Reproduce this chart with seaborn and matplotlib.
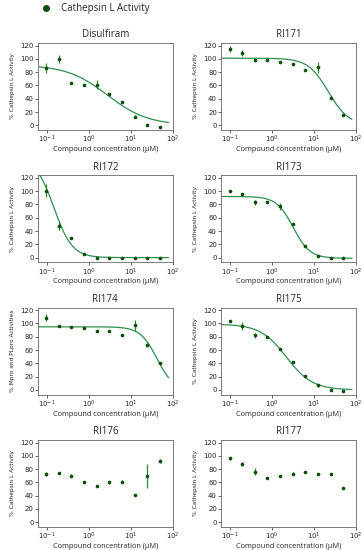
import numpy as np
import pandas as pd
import matplotlib
matplotlib.use("Agg")
import matplotlib.pyplot as plt
from matplotlib.lines import Line2D
import seaborn as sns

# concentrations (uM), 2-fold dilution
conc = [0.098, 0.195, 0.39, 0.78, 1.56, 3.125, 6.25, 12.5, 25, 50]

titles = ['Disulfiram', 'RI171', 'RI172', 'RI173', 'RI174', 'RI175', 'RI176', 'RI177']
ylabels = ['% Cathepsin L Activity'] * 4 + ['% Mpro and PLpro Activities'] + ['% Cathepsin L Activity'] * 3

act_disulfiram = [86, 100, 63, 61, 61, 47, 35, 13, 1, -2]
err_disulfiram = [7, 6, 1, 1, 7, 1, 2, 2, 1, 1]
act_ri171 = [115, 109, 98, 98, 95, 92, 83, 87, 41, 16]
err_ri171 = [5, 5, 2, 1, 1, 1, 1, 8, 2, 1]
act_ri172 = [101, 47, 29, 5, 0, -1, -1, -1, -1, -1]
err_ri172 = [10, 6, 1, 1, 1, 1, 1, 1, 1, 1]
act_ri173 = [100, 96, 83, 83, 77, 50, 18, 2, -1, -1]
err_ri173 = [1, 1, 4, 1, 5, 1, 1, 1, 1, 1]
act_ri174 = [109, 96, 94, 93, 89, 88, 83, 97, 68, 41]
err_ri174 = [6, 2, 1, 1, 1, 1, 1, 8, 3, 1]
act_ri175 = [103, 96, 82, 79, 61, 42, 21, 7, 0, -1]
err_ri175 = [1, 6, 4, 1, 1, 2, 1, 2, 1, 1]
act_ri176 = [73, 74, 70, 61, 55, 60, 61, 41, 70, 92]
err_ri176 = [3, 2, 2, 1, 1, 2, 2, 1, 18, 3]
act_ri177 = [96, 87, 76, 67, 69, 73, 76, 72, 72, 52]
err_ri177 = [2, 3, 5, 1, 1, 2, 1, 1, 1, 1]

activities = [act_disulfiram, act_ri171, act_ri172, act_ri173, act_ri174, act_ri175, act_ri176, act_ri177]
errors = [err_disulfiram, err_ri171, err_ri172, err_ri173, err_ri174, err_ri175, err_ri176, err_ri177]

# fitted 4PL parameters (top, bottom, IC50, hill); None = no fit shown
fit_top = [91, 101, 150, 92, 95, 99, None, None]
fit_bottom = [0, 0, 0, -1, 0, 0, None, None]
fit_ic50 = [2.8, 22, 0.15, 3.2, 42, 2.2, None, None]
fit_hill = [0.9, 1.8, 2.0, 2.2, 2.2, 1.4, None, None]

marker_col = '#0b4f0b'
err_col = '#2a8a2a'
line_col = '#2f8f4f'

sns.set_style('ticks')
plt.rcParams['font.family'] = ['DejaVu Sans']

fig, axes = plt.subplots(4, 2, figsize=(3.64, 5.5), dpi=100)
fig.subplots_adjust(left=0.104, right=0.978, top=0.922, bottom=0.042, hspace=0.52, wspace=0.36)

xfit = np.logspace(np.log10(0.065), np.log10(80), 200)

for i, ax in enumerate(axes.flat):
    df = pd.DataFrame({'conc': conc, 'act': activities[i], 'err': errors[i]})
    ax.errorbar(df['conc'], df['act'], yerr=df['err'], fmt='none', ecolor=err_col, elinewidth=0.9, capsize=0, zorder=2)
    if fit_top[i] is not None:
        yfit = fit_bottom[i] + (fit_top[i] - fit_bottom[i]) / (1 + (xfit / fit_ic50[i]) ** fit_hill[i])
        sns.lineplot(x=xfit, y=yfit, ax=ax, color=line_col, linewidth=0.9, zorder=1)
    sns.scatterplot(data=df, x='conc', y='act', ax=ax, color=marker_col, s=7, edgecolor=marker_col, linewidth=0, zorder=3)
    ax.set_xscale('log')
    ax.set_xlim(0.062, 100)
    ax.set_ylim(-7, 124)
    ax.set_yticks([0, 20, 40, 60, 80, 100, 120])
    ax.set_title(titles[i], fontsize=7, family='Open Sans', pad=4)
    ax.set_ylabel(ylabels[i], fontsize=4.2)
    ax.set_xlabel('Compound concentration (μM)', fontsize=5.3, family='Open Sans', labelpad=0.5)
    ax.tick_params(labelsize=5, length=2, width=0.5, pad=1)
    ax.tick_params(which='minor', length=0)
    for sp in ax.spines.values():
        sp.set_linewidth(0.6)
        sp.set_color('#666666')

handle = Line2D([], [], marker='o', linestyle='none', color=marker_col, markersize=4)
fig.legend([handle], ['Cathepsin L Activity'], loc='center left', bbox_to_anchor=(0.075, 0.984),
           frameon=False, prop={'family': 'Open Sans', 'size': 7}, handletextpad=0.6)

fig.savefig('out.png', dpi=100)
